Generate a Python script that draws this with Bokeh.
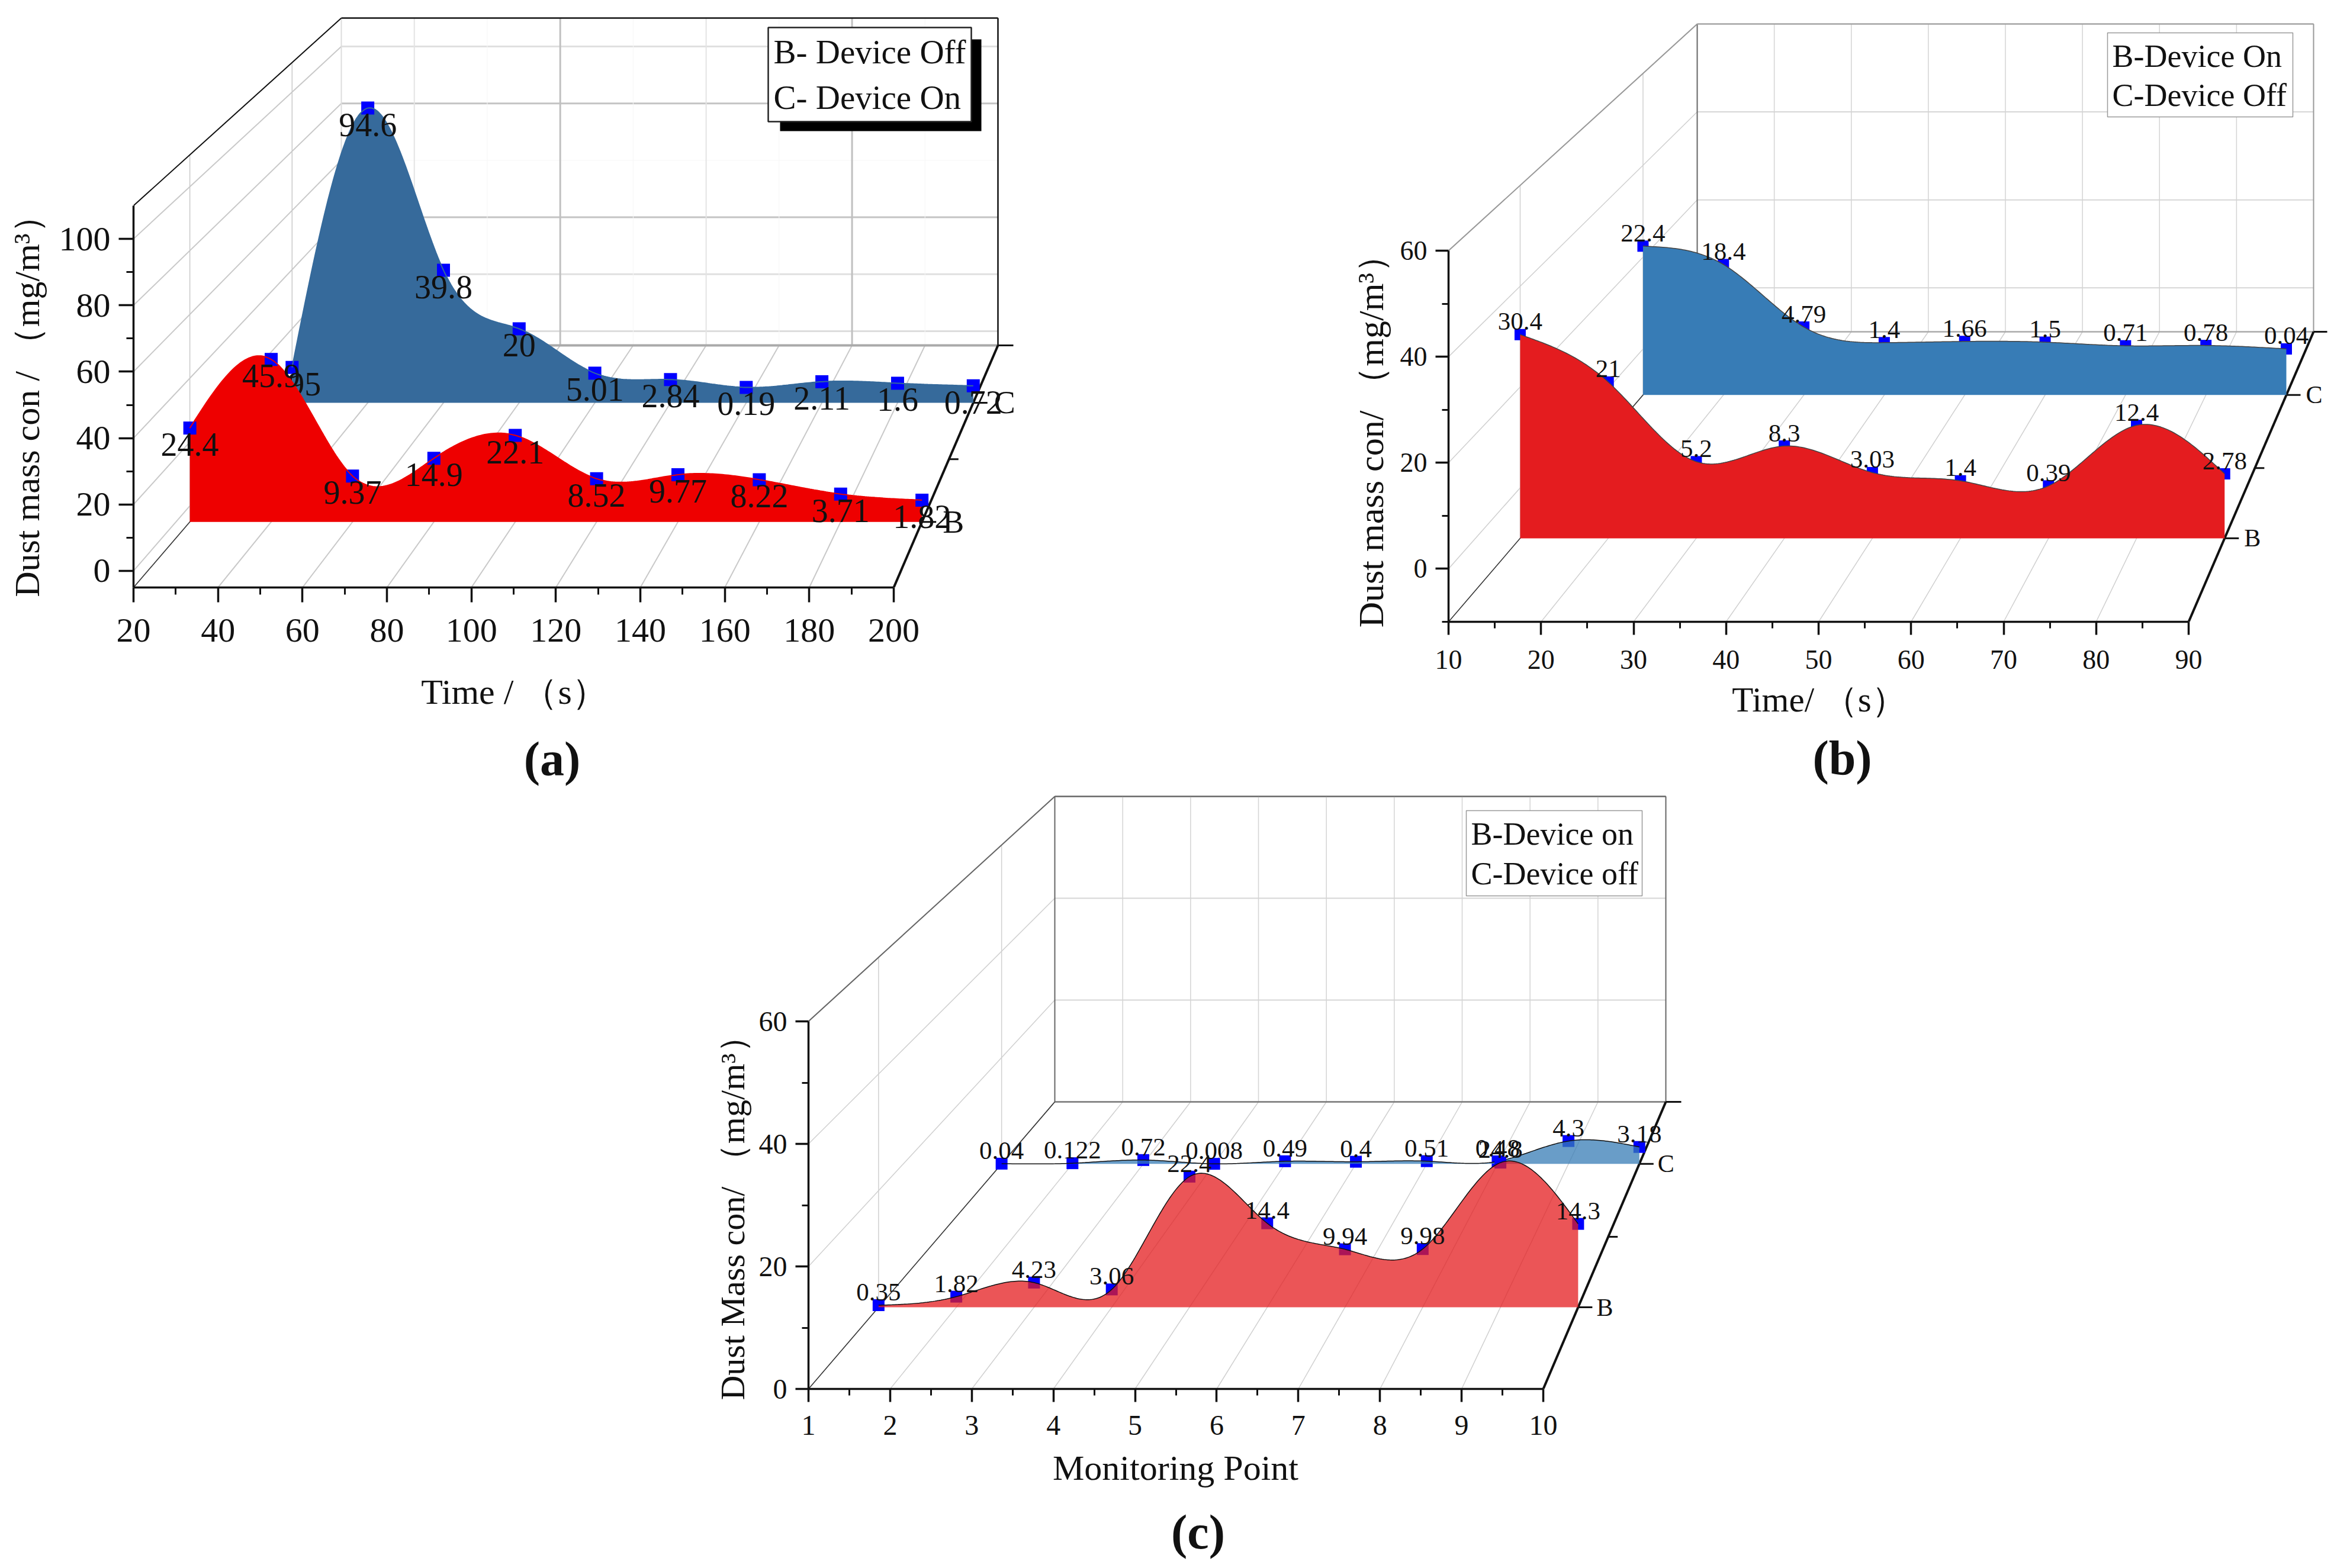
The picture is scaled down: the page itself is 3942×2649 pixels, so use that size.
import numpy as np
from bokeh.core.properties import value
from bokeh.embed import file_html
from bokeh.layouts import column, row
from bokeh.models import ColumnDataSource, FixedTicker, Label, Range1d, Spacer
from bokeh.plotting import figure
from bokeh.resources import INLINE

FONT = "Liberation Serif"

# ---------- panel (a)
a_x = [20, 40, 60, 80, 100, 120, 140, 160, 180, 200]
a_b = [24.4, 45.9, 9.37, 14.9, 22.1, 8.52, 9.77, 8.22, 3.71, 1.82]
a_c = [6.95, 94.6, 39.8, 20, 5.01, 2.84, 0.19, 2.11, 1.6, 0.72]
a_xticks = [20, 40, 60, 80, 100, 120, 140, 160, 180, 200]
a_xminor = [30, 50, 70, 90, 110, 130, 150, 170, 190]
a_yticks = [0, 20, 40, 60, 80, 100]
a_yminor = [10, 30, 50, 70, 90]
a_legend = ["B- Device Off", "C- Device On"]

# ---------- panel (b)
b_x = [10, 20, 30, 40, 50, 60, 70, 80, 90]
b_b = [30.4, 21, 5.2, 8.3, 3.03, 1.4, 0.39, 12.4, 2.78]
b_c = [22.4, 18.4, 4.79, 1.4, 1.66, 1.5, 0.71, 0.78, 0.04]
b_xticks = [10, 20, 30, 40, 50, 60, 70, 80, 90]
b_xminor = [15, 25, 35, 45, 55, 65, 75, 85]
b_yticks = [0, 20, 40, 60]
b_yminor = [-10, 10, 30, 50]
b_legend = ["B-Device On", "C-Device Off"]

# ---------- panel (c)
c_x = [1, 2, 3, 4, 5, 6, 7, 8, 9, 10]
c_b = [0.35, 1.82, 4.23, 3.06, 22.4, 14.4, 9.94, 9.98, 24.8, 14.3]
c_c = [0.04, 0.122, 0.72, 0.008, 0.49, 0.4, 0.51, 0.48, 4.3, 3.18]
c_xticks = [1, 2, 3, 4, 5, 6, 7, 8, 9, 10]
c_xminor = [1.5, 2.5, 3.5, 4.5, 5.5, 6.5, 7.5, 8.5, 9.5]
c_yticks = [0, 20, 40, 60]
c_yminor = [10, 30, 50]
c_legend = ["B-Device on", "C-Device off"]


def spline(x, y, n=40):
    """Natural cubic spline drawn through the read values."""
    x = np.asarray(x, float)
    y = np.asarray(y, float)
    m = len(x)
    h = np.diff(x)
    A = np.zeros((m, m))
    r = np.zeros(m)
    A[0, 0] = A[-1, -1] = 1
    for i in range(1, m - 1):
        A[i, i - 1] = h[i - 1]
        A[i, i] = 2 * (h[i - 1] + h[i])
        A[i, i + 1] = h[i]
        r[i] = 6 * ((y[i + 1] - y[i]) / h[i] - (y[i] - y[i - 1]) / h[i - 1])
    k = np.linalg.solve(A, r)
    xs, ys = [], []
    for i in range(m - 1):
        t = np.linspace(x[i], x[i + 1], n, endpoint=False)
        a = (x[i + 1] - t) / h[i]
        b = (t - x[i]) / h[i]
        ys.extend(a * y[i] + b * y[i + 1] + ((a**3 - a) * k[i] + (b**3 - b) * k[i + 1]) * h[i] ** 2 / 6)
        xs.extend(t)
    xs.append(x[-1])
    ys.append(y[-1])
    return np.array(xs), np.array(ys)


def panel(c):
    L, R, Bot, Top = c["L"], c["R"], c["Bot"], c["Top"]
    BL, BR, BF, BT = c["BL"], c["BR"], c["BF"], c["BT"]
    xmin, xmax, ymin, ymax = c["xmin"], c["xmax"], c["ymin"], c["ymax"]
    sx = (R - L) / (xmax - xmin)
    sy = (Bot - Top) / (ymax - ymin)

    def to_data(px, py):
        return xmin + (np.asarray(px, float) - L) / sx, ymin + (Bot - np.asarray(py, float)) / sy

    def project(x, y, d):
        l = L + (BL - L) * d
        r = R + (BR - R) * d
        f = Bot + (BF - Bot) * d
        t = Top + (BT - Top) * d
        px = l + (np.asarray(x, float) - xmin) / (xmax - xmin) * (r - l)
        py = f - (np.asarray(y, float) - ymin) / (ymax - ymin) * (f - t)
        return to_data(px, py)

    fl, ft, fw, fh = c["fig"]  # figure box on the page, in reference pixels
    fr_right = c["frame_right"]
    p = figure(
        width=fw, height=fh, output_backend="svg", toolbar_location=None,
        x_range=Range1d(xmin, xmin + (fr_right - L) / sx),
        y_range=Range1d(ymin, ymin + (Bot - ft) / sy),
        min_border_left=int(L - fl), min_border_right=int(fl + fw - fr_right),
        min_border_top=0, min_border_bottom=int(ft + fh - Bot),
        outline_line_color=None, background_fill_color="white",
    )
    p.frame_align = False
    p.grid.visible = False
    for ax, ticks, minor, bounds in (
        (p.xaxis[0], c["xticks"], c["xminor"], (xmin, xmax)),
        (p.yaxis[0], c["yticks"], c["yminor"], (ymin, ymax)),
    ):
        ax.ticker = FixedTicker(ticks=ticks, minor_ticks=minor)
        ax.bounds = bounds
        ax.axis_line_color = "#111111"
        ax.axis_line_width = 3.5
        ax.major_tick_line_color = "#111111"
        ax.minor_tick_line_color = "#111111"
        ax.major_tick_line_width = 3.5
        ax.minor_tick_line_width = 3
        ax.major_tick_in = 0
        ax.minor_tick_in = 0
        ax.major_tick_out = c["tick"]
        ax.minor_tick_out = c["tick"] // 2
        ax.major_label_text_font = FONT
        ax.major_label_text_font_size = c["tick_font"]
        ax.major_label_text_color = "#111111"
    p.xaxis[0].major_label_standoff = c["xstand"]
    p.yaxis[0].major_label_standoff = c["ystand"]
    p.yaxis[0].major_label_orientation = "horizontal"

    def seg(a, b, color, width):
        xa, ya = a
        xb, yb = b
        p.line([float(xa), float(xb)], [float(ya), float(yb)], line_color=color, line_width=width)

    # walls and floor grid
    for t in c["xticks"]:
        seg(project(t, ymin, 0), project(t, ymin, 1), c["grid"], c["grid_w"])
    for t in c["yticks"]:
        seg(project(xmin, t, 0), project(xmin, t, 1), c["grid"], c["grid_w"])
        col, w = c["back_h"].get(t, (c["grid"], c["grid_w"]))
        seg(project(xmin, t, 1), project(xmax, t, 1), col, w)
    for i, t in enumerate(c["xticks"][1:-1]):
        col, w = c["back_v"][i % len(c["back_v"])]
        seg(project(t, ymin, 1), project(t, ymax, 1), col, w)
    for d in (c["dB"], c["dC"]):
        seg(project(xmin, ymin, d), project(xmin, ymax, d), c["grid"], 1.5)

    seg(project(xmin, ymin, 1), project(xmax, ymin, 1), c["backfloor"], c["backfloor_w"])
    seg(project(xmin, ymin, 1), project(xmin, ymax, 1), c["backleft"], 2)
    seg(project(xmax, ymin, 1), project(xmax, ymax, 1), c["backright"], c["edge_w"])
    seg(project(xmin, ymax, 1), project(xmax, ymax, 1), c["backright"], c["edge_w"])
    seg(project(xmin, ymax, 0), project(xmin, ymax, 1), c["backright"], 2)
    seg(project(xmin, ymin, 0), project(xmin, ymin, 1), "#333333", 1.5)
    seg(project(xmax, ymin, 0), project(xmax, ymin, 1), "#111111", 4)

    # depth axis ticks and their names
    for d, ln in ((c["dB"], 24), (c["dM"], 16), (c["dC"], 24), (1.0, 26)):
        px, py = project(xmax, ymin, d)
        seg((px, py), (px + ln / sx, py), "#111111", 3)
    for name, d in (("B", c["dB"]), ("C", c["dC"])):
        px, py = project(xmax, ymin, d)
        p.add_layout(Label(x=float(px + c["name_off"] / sx), y=float(py), text=name, text_font=FONT,
                           text_font_size=c["name_font"], text_align="center", text_baseline="middle",
                           text_color="#111111"))

    # the two series: blue (C) at the back, red (B) in front; each wall covers what lies behind it
    for vals, d, fill in ((c["c"], c["dC"], c["blue"]), (c["b"], c["dB"], c["red"])):
        sxs, sys = spline(c["x"], vals)
        sys = np.maximum(sys, ymin)
        top_x, top_y = project(sxs, sys, d)
        fx, fy = project(sxs[::-1], np.full(len(sxs), ymin), d)
        mx, my = project(c["x"], vals, d)
        if not c["marks_on_top"]:
            p.scatter(mx, my, marker="square", size=c["mark"], fill_color="#0000ff", line_color=None)
        p.patch(np.r_[top_x, fx], np.r_[top_y, fy], fill_color=fill, fill_alpha=c["alpha"], line_color=None)
        if c["marks_on_top"]:
            p.scatter(mx, my, marker="square", size=c["mark"], fill_color="#0000ff", line_color=None)
        p.line(top_x, top_y, line_color=c["curve"] or fill, line_width=c["curve_w"])
        src = ColumnDataSource(dict(x=mx, y=my, t=[f"{v:g}" for v in vals]))
        p.text("x", "y", text="t", source=src, text_font=value(FONT), text_font_size=value(c["val_font"]),
               text_align="center", text_baseline="middle", y_offset=c["val_off"], text_color="#111111")

    # legend box
    bx0, by0, bx1, by1 = c["box"]
    if c["shadow"]:
        xa, ya = to_data(bx0 + 20, by0 + 20)
        xb, yb = to_data(bx1 + 17, by1 + 16)
        p.quad(left=[float(xa)], right=[float(xb)], top=[float(ya)], bottom=[float(yb)], fill_color="black", line_color=None)
    xa, ya = to_data(bx0, by0)
    xb, yb = to_data(bx1, by1)
    p.quad(left=[float(xa)], right=[float(xb)], top=[float(ya)], bottom=[float(yb)], fill_color="white",
           line_color=c["box_line"], line_width=c["box_w"])
    for txt, ly in zip(c["legend"], c["legend_y"]):
        lx, lyy = to_data(c["legend_x"], ly)
        p.add_layout(Label(x=float(lx), y=float(lyy), text=txt, text_font=FONT, text_font_size=c["legend_font"],
                           text_align="left", text_baseline="middle", text_color="#111111"))

    # axis titles and the caption: put in side panels, so that they are not clipped to the frame
    for txt, (px, py), font, angle, style, side in (
        (c["ylabel"], c["ylabel_at"], c["ytitle_font"], 90, "normal", "left"),
        (c["xlabel"], c["xlabel_at"], c["xtitle_font"], 0, "normal", "below"),
        (c["caption"], c["caption_at"], "82px", 0, "bold", "below"),
    ):
        lx, ly = to_data(px, py)
        p.add_layout(Label(x=float(lx), y=float(ly), text=txt, text_font=FONT, text_font_size=font,
                           text_font_style=style, angle=angle, angle_units="deg", text_align="center",
                           text_baseline="middle", text_color="#111111"), side)
    return p


pa = panel(dict(
    fig=(0, 0, 1758, 1340), frame_right=1745,
    L=225, R=1509, Bot=992, Top=347, BL=576, BR=1685, BF=583, BT=30,
    xmin=20, xmax=200, ymin=-5, ymax=110, dB=0.271, dM=0.53, dC=0.763,
    x=a_x, b=a_b, c=a_c, xticks=a_xticks, xminor=a_xminor, yticks=a_yticks, yminor=a_yminor,
    tick=25, tick_font="58px", xstand=28, ystand=14,
    grid="#c9c9c9", grid_w=2, backfloor="#aaaaaa", backfloor_w=4, backleft="#dddddd",
    backright="#111111", edge_w=2.5,
    back_h={0: ("#dddddd", 3), 20: ("#e0e0e0", 3), 40: ("#c4c4c4", 3), 60: ("#f6f6f6", 1), 80: ("#c4c4c4", 3), 100: ("#e0e0e0", 3)},
    back_v=[("#e4e4e4", 2), ("#f6f6f6", 1), ("#c0c0c0", 3), ("#f6f6f6", 1)],
    red="#ee0000", blue="#366a9b", alpha=1.0, curve=None, curve_w=2, marks_on_top=True, mark=22,
    val_font="56px", val_off=28, name_font="54px", name_off=53,
    box=(1297, 46, 1640, 205), shadow=True, box_line="#222222", box_w=2.5,
    legend=a_legend, legend_x=1306, legend_y=(87, 164), legend_font="57px",
    ylabel="Dust mass con / （mg/m³）", ylabel_at=(45, 671), xlabel="Time / （s）", xlabel_at=(868, 1168),
    ytitle_font="60px", xtitle_font="60px", caption="(a)", caption_at=(932, 1282),
))

pb = panel(dict(
    fig=(1758, 0, 2176, 1340), frame_right=3930,
    L=2446, R=3696, Bot=1050, Top=423, BL=2866, BR=3907, BF=560, BT=40,
    xmin=10, xmax=90, ymin=-10, ymax=60, dB=0.288, dM=0.53, dC=0.782,
    x=b_x, b=b_b, c=b_c, xticks=b_xticks, xminor=b_xminor, yticks=b_yticks, yminor=b_yminor,
    tick=22, tick_font="46px", xstand=26, ystand=14,
    grid="#d0d0d0", grid_w=1.5, backfloor="#aaaaaa", backfloor_w=2.5, backleft="#666666",
    backright="#999999", edge_w=2,
    back_h={0: ("#d6d6d6", 2), 20: ("#d6d6d6", 2), 40: ("#d6d6d6", 2), 60: ("#d6d6d6", 2)},
    back_v=[("#d4d4d4", 1.5)],
    red="#e41c1f", blue="#377cb6", alpha=1.0, curve="#444444", curve_w=1.5, marks_on_top=False, mark=19,
    val_font="43px", val_off=-22, name_font="42px", name_off=47,
    box=(3559, 55, 3872, 197), shadow=False, box_line="#999999", box_w=1.5,
    legend=b_legend, legend_x=3567, legend_y=(94, 160), legend_font="54px",
    ylabel="Dust mass con/ （mg/m³）", ylabel_at=(2315, 730), xlabel="Time/ （s）", xlabel_at=(3072, 1181),
    ytitle_font="60px", xtitle_font="59px", caption="(b)", caption_at=(3111, 1280),
))

pc = panel(dict(
    fig=(1100, 1340, 1800, 1301), frame_right=2860,
    L=1365, R=2606, Bot=2346, Top=1725, BL=1781, BR=2813, BF=1861, BT=1345,
    xmin=1, xmax=10, ymin=0, ymax=60, dB=0.2845, dM=0.53, dC=0.784,
    x=c_x, b=c_b, c=c_c, xticks=c_xticks, xminor=c_xminor, yticks=c_yticks, yminor=c_yminor,
    tick=22, tick_font="48px", xstand=23, ystand=14,
    grid="#d0d0d0", grid_w=1.5, backfloor="#777777", backfloor_w=2.5, backleft="#666666",
    backright="#666666", edge_w=2,
    back_h={20: ("#d6d6d6", 2), 40: ("#d6d6d6", 2), 60: ("#666666", 2)},
    back_v=[("#d4d4d4", 1.5)],
    red="#e41c1f", blue="#377cb6", alpha=0.75, curve="#111111", curve_w=1.5, marks_on_top=False, mark=20,
    val_font="43px", val_off=-22, name_font="42px", name_off=45,
    box=(2476, 1369, 2773, 1513), shadow=False, box_line="#999999", box_w=1.5,
    legend=c_legend, legend_x=2484, legend_y=(1408, 1475), legend_font="54px",
    ylabel="Dust Mass con/ （mg/m³）", ylabel_at=(1237, 2043), xlabel="Monitoring Point", xlabel_at=(1985, 2479),
    ytitle_font="58px", xtitle_font="60px", caption="(c)", caption_at=(2023, 2588),
))

layout = column(row(pa, pb), row(Spacer(width=1100, height=10), pc))
open("out.html", "w").write(file_html(layout, INLINE))
